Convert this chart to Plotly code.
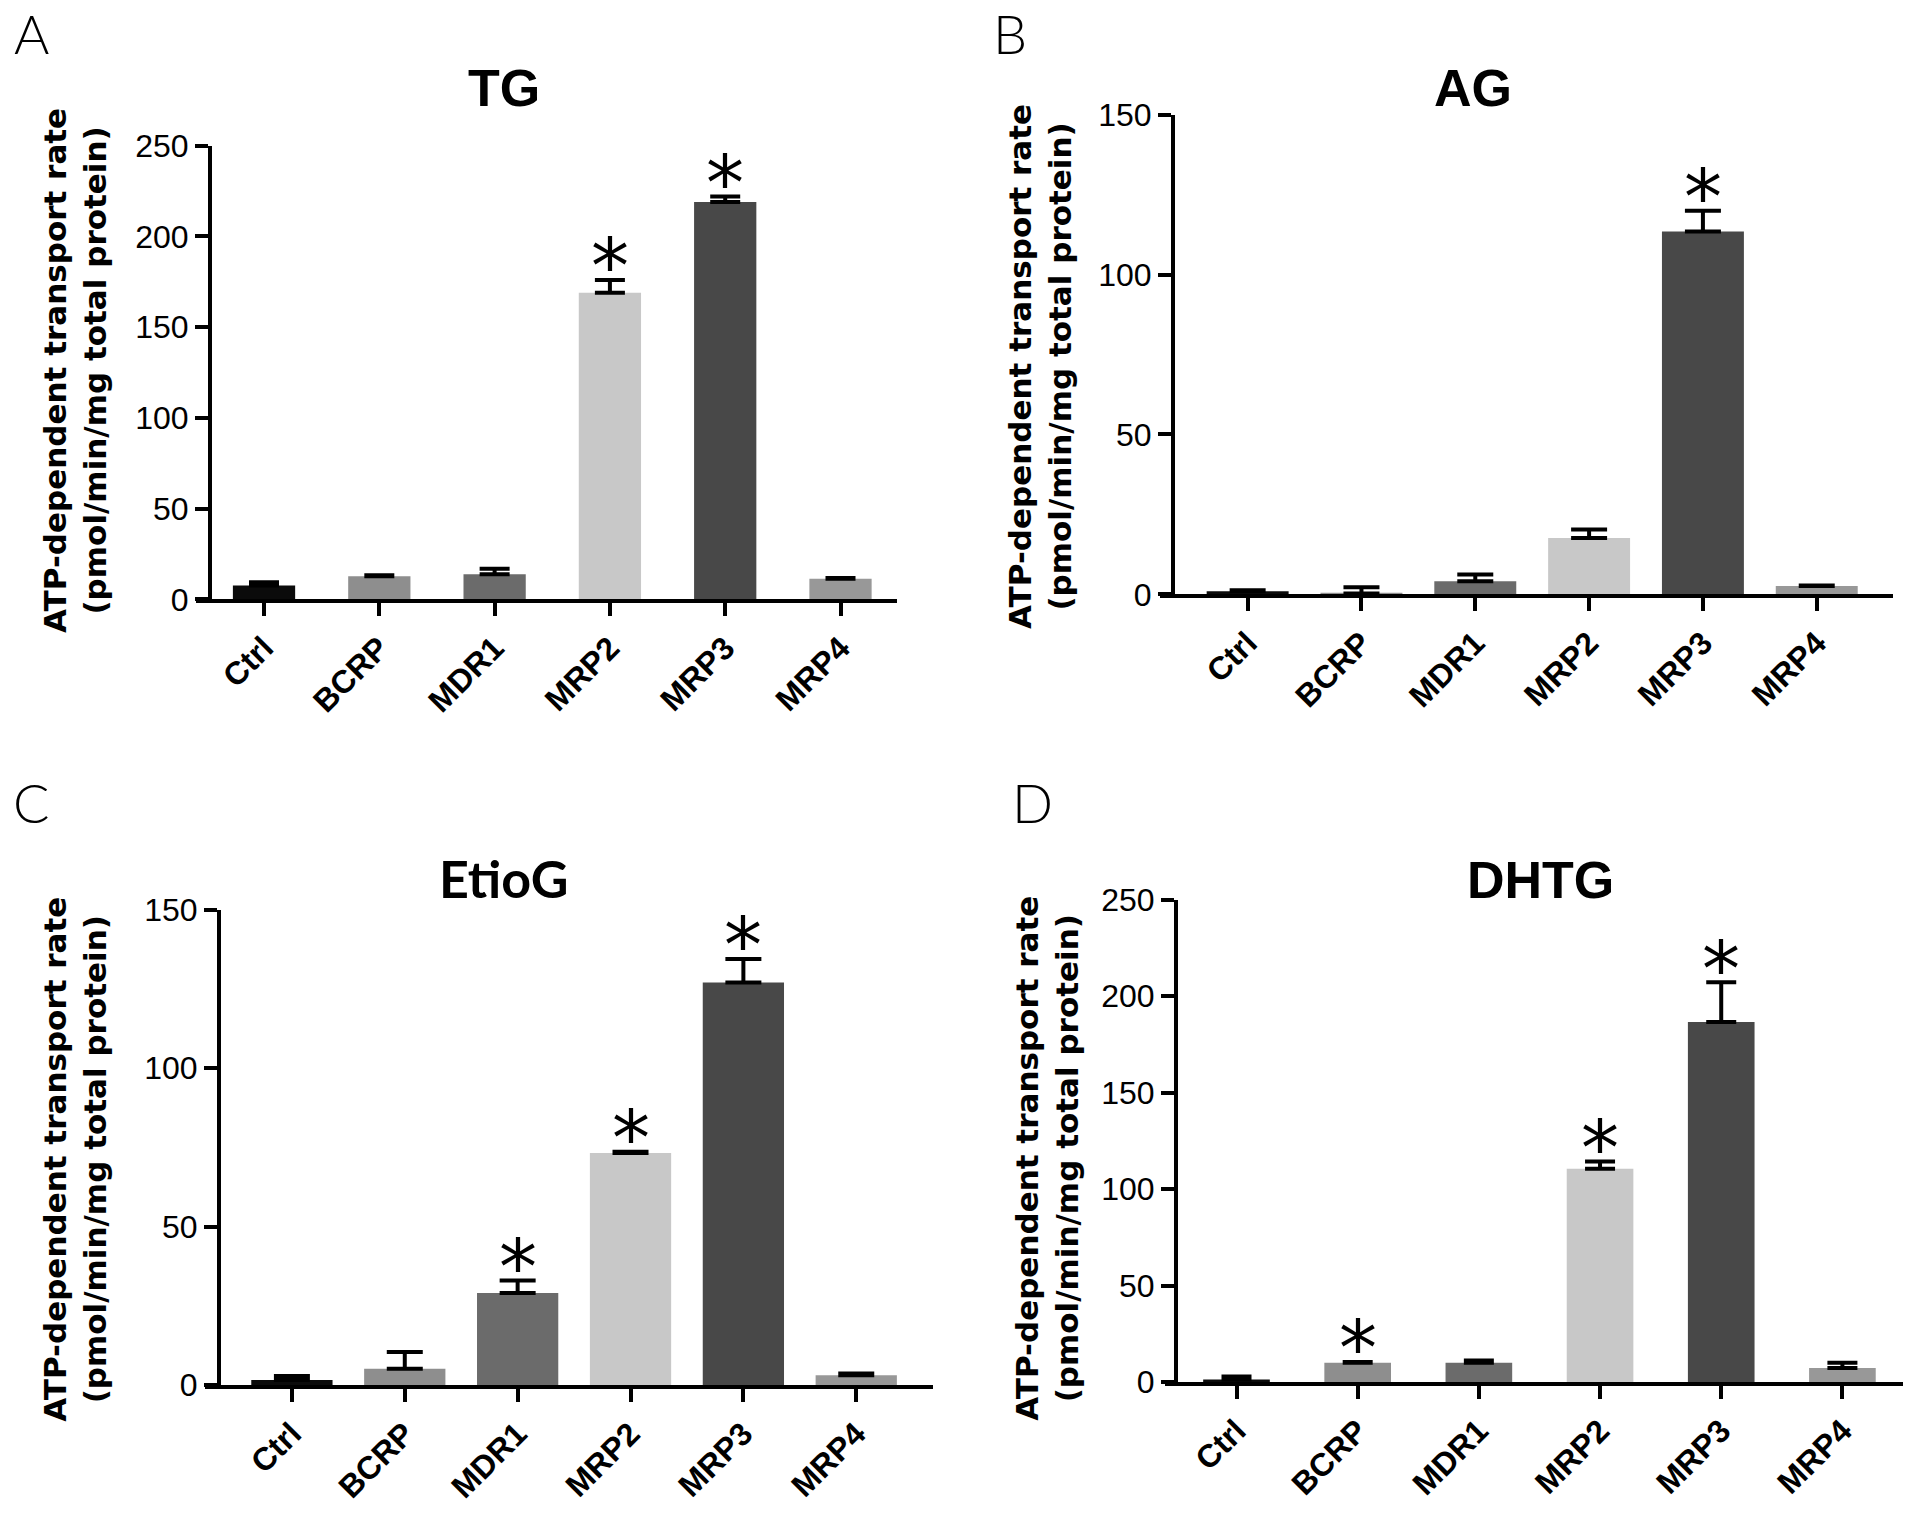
import plotly.graph_objects as go

W, H = 1920, 1517

categories = ["Ctrl", "BCRP", "MDR1", "MRP2", "MRP3", "MRP4"]
bar_colors = ["#0b0b0b", "#8e8e8e", "#6b6b6b", "#c8c8c8", "#484848", "#989898"]

# Panel A: TG
tg_mean = [7.6, 12.8, 13.9, 169, 219, 11.4]
tg_err = [1.9, 0.5, 3.0, 7.0, 3.0, 0.4]
tg_sig = [False, False, False, True, True, False]
# Panel B: AG
ag_mean = [1.0, 0.3, 4.1, 17.6, 113.5, 2.6]
ag_err = [0.3, 1.9, 2.1, 2.7, 6.5, 0.2]
ag_sig = [False, False, False, False, True, False]
# Panel C: EtioG
etio_mean = [1.6, 5.2, 29.1, 73.2, 127, 3.1]
etio_err = [1.3, 5.3, 3.9, 0.4, 7.4, 0.6]
etio_sig = [False, False, True, True, True, False]
# Panel D: DHTG
dhtg_mean = [1.4, 10.0, 10.0, 110.6, 186.5, 7.4]
dhtg_err = [1.5, 0.5, 1.2, 3.7, 20.7, 2.6]
dhtg_sig = [False, True, False, True, True, False]

titles = ["TG", "AG", "EtioG", "DHTG"]
letters = ["A", "B", "C", "D"]
ymax = [250, 150, 150, 250]
ytick_vals = [[0, 50, 100, 150, 200, 250], [0, 50, 100, 150], [0, 50, 100, 150], [0, 50, 100, 150, 200, 250]]


def vy(py):
    """target pixel row -> paper fraction (compensates page vertical scaling)"""
    return 1 - ((py - 16) / 0.979) / H


# layout geometry in pixels (target frame)
xdom_px = [(196, 897), (1160, 1893), (205, 933), (1165, 1903)]
yaxis_px = [210, 1173, 219, 1176]
ydom_px = [(599, 144), (594, 113), (1387, 910), (1384, 900)]
xranges = [(-0.59, 5.49), (-0.77, 5.67), (-0.77, 5.68), (-0.59, 5.5)]
bar_w = [0.54, 0.72, 0.72, 0.55]
cap_w = [15, 18, 18, 15]
title_pos = [(504, 86), (1473, 86), (504, 878), (1540, 880)]
title_fonts = ["Liberation Sans", "Liberation Sans", "Lato", "Liberation Sans"]
letter_pos = [(31, 32), (1010, 32), (31, 803), (1032, 803)]
ylabel_pos = [(75, 370), (1040, 366), (75, 1161), (1047, 1160)]

means = [tg_mean, ag_mean, etio_mean, dhtg_mean]
errs = [tg_err, ag_err, etio_err, dhtg_err]
sigs = [tg_sig, ag_sig, etio_sig, dhtg_sig]

fig = go.Figure()
annotations = []
layout = {}

for i in range(4):
    n = "" if i == 0 else str(i + 1)
    xa, ya = "x" + n, "y" + n
    fig.add_trace(go.Bar(
        x=categories, y=means[i], xaxis=xa, yaxis=ya,
        marker=dict(color=bar_colors, line=dict(width=0)),
        width=bar_w[i],
        error_y=dict(type="data", array=errs[i], arrayminus=[0] * 6, symmetric=False,
                     color="black", thickness=4, width=cap_w[i]),
        showlegend=False, hoverinfo="x+y",
    ))
    x0, x1 = xdom_px[i]
    yb, yt = ydom_px[i]
    layout["xaxis" + n] = dict(
        domain=[x0 / W, x1 / W], anchor=ya, range=list(xranges[i]),
        type="category", showline=True, linecolor="black", linewidth=4,
        ticks="outside", ticklen=13, tickwidth=4, tickcolor="black",
        tickangle=-45, showgrid=False, zeroline=False,
        tickfont=dict(family="Liberation Sans", size=32, color="black", weight="bold"),
    )
    layout["yaxis" + n] = dict(
        domain=[vy(yb), vy(yt)], anchor="free", position=yaxis_px[i] / W,
        range=[0, ymax[i]], tickvals=ytick_vals[i],
        showline=True, linecolor="black", linewidth=4,
        ticks="outside", ticklen=13, tickwidth=4, tickcolor="black",
        showgrid=False, zeroline=False,
        tickfont=dict(family="Liberation Sans", size=32, color="black"),
    )
    # significance stars
    for j, c in enumerate(categories):
        if sigs[i][j]:
            annotations.append(dict(
                x=c, y=means[i][j] + errs[i][j], xref=xa, yref=ya,
                text="*", showarrow=False, yanchor="middle", yshift=13,
                font=dict(family="DejaVu Sans", size=76, color="black"),
            ))
    # titles
    tx, ty = title_pos[i]
    annotations.append(dict(
        x=tx / W, y=vy(ty), xref="paper", yref="paper", text="<b>%s</b>" % titles[i],
        showarrow=False, xanchor="center", yanchor="middle",
        font=dict(family=title_fonts[i], size=52, color="black"),
    ))
    lx, ly = letter_pos[i]
    annotations.append(dict(
        x=lx / W, y=vy(ly), xref="paper", yref="paper", text=letters[i],
        showarrow=False, xanchor="center", yanchor="middle",
        font=dict(family="Lato", size=54, color="black", weight=300),
    ))
    px_, py_ = ylabel_pos[i]
    annotations.append(dict(
        x=px_ / W, y=vy(py_), xref="paper", yref="paper",
        text="<b>ATP-dependent transport rate<br>(pmol/min/mg total protein)</b>",
        showarrow=False, textangle=-90, xanchor="center", yanchor="middle",
        font=dict(family="DejaVu Sans", size=31, color="black"),
    ))

fig.update_layout(
    width=W, height=H, margin=dict(l=0, r=0, t=0, b=0),
    paper_bgcolor="white", plot_bgcolor="white",
    annotations=annotations, bargap=0.2, **layout,
)

fig.write_html("out.html", config={"displayModeBar": False},
               post_script="document.body.style.margin='0';document.body.style.overflow='hidden';")
